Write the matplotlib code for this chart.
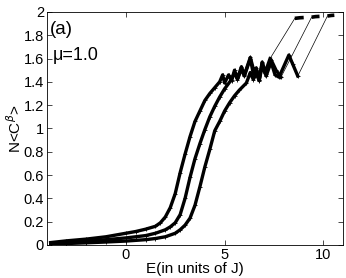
import matplotlib
matplotlib.use("Agg")
import matplotlib.pyplot as plt

# curve 1 (leftmost): rising part + sawtooth, then plateau after the jump
e1 = [-3.8, -3.0, -2.0, -1.0, 0.0, 0.5, 1.0, 1.5, 1.75, 2.0, 2.25, 2.5, 2.75, 3.0,
      3.25, 3.5, 3.75, 4.0, 4.25, 4.5, 4.75, 4.9, 5.0, 5.2, 5.35, 5.5, 5.65, 5.85,
      6.0, 6.3, 6.5, 6.6, 6.75, 6.9, 7.05, 7.3]
n1 = [0.02, 0.035, 0.05, 0.07, 0.10, 0.115, 0.135, 0.16, 0.19, 0.24, 0.32, 0.44, 0.62, 0.78,
      0.93, 1.06, 1.15, 1.24, 1.30, 1.35, 1.40, 1.46, 1.39, 1.46, 1.41, 1.50, 1.43, 1.53,
      1.46, 1.61, 1.48, 1.52, 1.42, 1.57, 1.48, 1.60]
e1_top = [8.55, 8.8, 9.0]
n1_top = [1.945, 1.95, 1.952]

# curve 2 (middle)
e2 = [-3.8, -3.0, -2.0, -1.0, 0.0, 0.5, 1.0, 1.5, 2.0, 2.25, 2.5, 2.75, 3.0, 3.25,
      3.5, 3.75, 4.0, 4.25, 4.5, 4.75, 5.0, 5.35, 5.5, 5.65, 5.85, 6.0, 6.3, 6.45,
      6.6, 6.75, 6.9, 7.1, 7.35, 7.6, 7.85]
n2 = [0.015, 0.02, 0.03, 0.045, 0.06, 0.07, 0.08, 0.10, 0.13, 0.155, 0.19, 0.26, 0.40, 0.58,
      0.74, 0.87, 0.99, 1.10, 1.19, 1.27, 1.34, 1.42, 1.48, 1.42, 1.51, 1.45, 1.60, 1.47,
      1.50, 1.42, 1.56, 1.47, 1.59, 1.50, 1.44]
e2_top = [9.4, 9.6, 9.8]
n2_top = [1.955, 1.96, 1.962]

# curve 3 (rightmost)
e3 = [-3.8, -3.0, -2.0, -1.0, 0.0, 1.0, 1.5, 2.0, 2.5, 2.75, 3.0, 3.25, 3.5, 3.75,
      4.0, 4.25, 4.5, 4.75, 5.0, 5.25, 5.5, 5.75, 6.1, 6.3, 6.45, 6.6, 6.75, 6.9,
      7.1, 7.35, 7.55, 7.75, 8.25, 8.45, 8.7]
n3 = [0.01, 0.012, 0.018, 0.025, 0.033, 0.045, 0.055, 0.07, 0.10, 0.13, 0.17, 0.23, 0.34, 0.50,
      0.67, 0.82, 0.98, 1.06, 1.15, 1.22, 1.28, 1.33, 1.39, 1.48, 1.42, 1.47, 1.41, 1.54,
      1.45, 1.57, 1.46, 1.44, 1.63, 1.55, 1.45]
e3_top = [10.2, 10.4, 10.55]
n3_top = [1.965, 1.97, 1.972]

curves = [(e1, n1, e1_top, n1_top), (e2, n2, e2_top, n2_top), (e3, n3, e3_top, n3_top)]

plt.rcParams["font.family"] = ["Liberation Sans", "DejaVu Sans"]

fig = plt.figure(figsize=(3.46, 2.78), dpi=100)
ax = fig.add_axes([0.135, 0.119, 0.857, 0.838])

for e, n, et, nt in curves:
    # thin connecting line across the jump
    ax.plot([e[-1], et[0]], [n[-1], nt[0]], color="black", lw=0.5)
    ax.plot(e, n, color="black", lw=2.4, solid_joinstyle="round")
    ax.plot(e, n, color="black", lw=0, marker="+", ms=3, mew=0.6)
    ax.plot(et, nt, color="black", lw=2.6, solid_capstyle="butt")

ax.set_xlim(-4, 11)
ax.set_ylim(0, 2)
ax.set_xticks([0, 5, 10])
ax.set_yticks([0, 0.2, 0.4, 0.6, 0.8, 1, 1.2, 1.4, 1.6, 1.8, 2])
ax.set_yticklabels(["0", "0.2", "0.4", "0.6", "0.8", "1", "1.2", "1.4", "1.6", "1.8", "2"])
ax.tick_params(direction="in", length=3.5, width=0.5, top=True, right=True,
               labelsize=10.5, pad=2)
for s in ax.spines.values():
    s.set_linewidth(0.6)

ax.set_xlabel("E(in units of J)", fontsize=11, labelpad=0)
ax.set_ylabel(r"N<C$^{\beta}$>", fontsize=11, labelpad=0)
ax.text(0.012, 0.96, "(a)", transform=ax.transAxes, fontsize=13.5, va="top")
ax.text(0.02, 0.85, "μ=1.0", transform=ax.transAxes, fontsize=13, va="top")

fig.savefig("out.png", dpi=100)
